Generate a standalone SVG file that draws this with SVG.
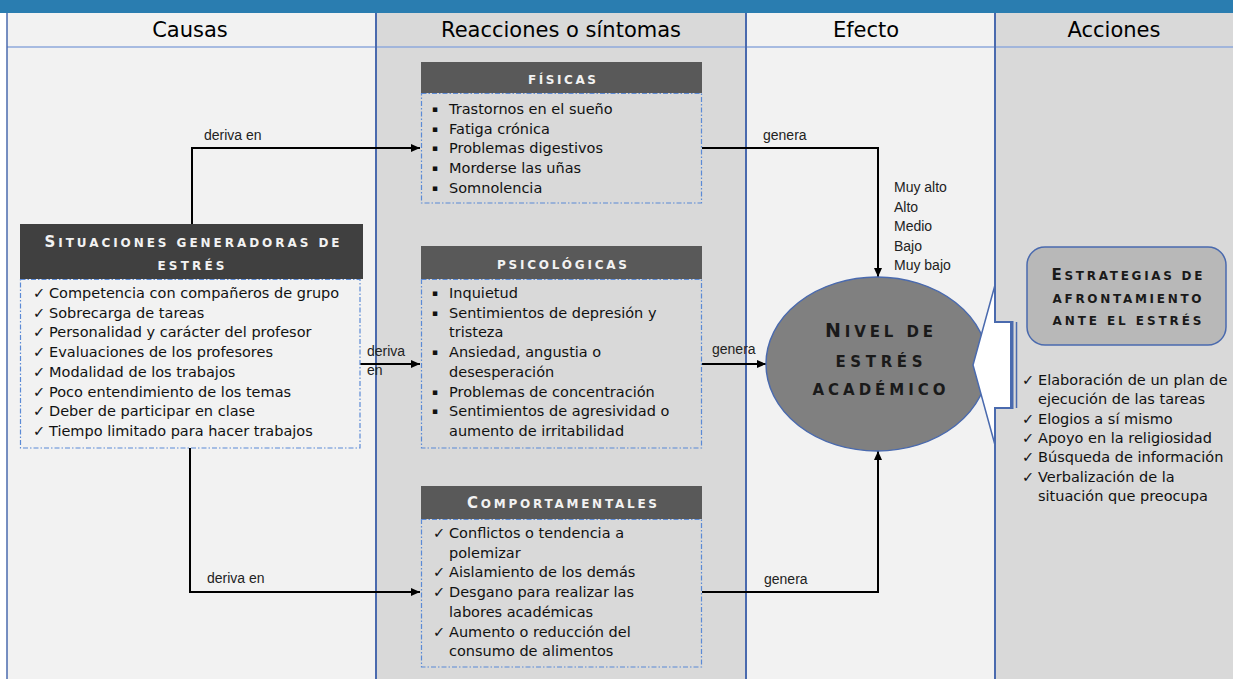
<svg xmlns="http://www.w3.org/2000/svg" width="1233" height="679" viewBox="0 0 1233 679">
<defs>
<marker id="arr" markerUnits="userSpaceOnUse" markerWidth="10" markerHeight="8" refX="9" refY="4" orient="auto">
<path d="M0,0 L9,4 L0,8 z" fill="#000"/>
</marker>
<style>
.col-l{fill:#f2f2f2}
.col-d{fill:#d9d9d9}
.sep{stroke:#4a6aae;stroke-width:2;fill:none}
.hdr{font-family:"DejaVu Sans",sans-serif;font-size:21px;fill:#000;text-anchor:middle}
.txt{font-family:"DejaVu Sans",sans-serif;font-size:14.5px;fill:#111}
.bul{font-family:"DejaVu Sans",sans-serif;font-size:9px;fill:#111}
.lbl{font-family:"Liberation Sans",sans-serif;font-size:14px;fill:#222}
.cap{font-family:"DejaVu Sans",sans-serif;font-weight:bold;font-size:12px;fill:#f2f2f2;text-anchor:middle}
.big{font-size:15px}
.capd{fill:#1a1a1a}
.dark{fill:#595959}
.body{fill:none;stroke:#5b8ad6;stroke-width:1.2;stroke-dasharray:5 2 1.5 2}
.con{fill:none;stroke:#000;stroke-width:2}
</style>
</defs>
<rect x="0" y="0" width="1233" height="679" fill="#ffffff"/>
<g id="columns">
<rect class="col-l" x="7" y="12" width="369" height="667"/>
<rect class="col-d" x="376" y="12" width="370" height="667"/>
<rect class="col-l" x="746" y="12" width="249" height="667"/>
<rect class="col-d" x="995" y="12" width="238" height="667"/>
<rect x="0" y="0" width="1233" height="13" fill="#2a7db0"/>
<line x1="7" y1="47" x2="1233" y2="47" stroke="#8ea9db" stroke-width="1.5"/>
<line class="sep" x1="7" y1="13" x2="7" y2="679" style="stroke-width:1.5"/>
<line class="sep" x1="376" y1="13" x2="376" y2="679"/>
<line class="sep" x1="746" y1="13" x2="746" y2="679"/>
<text class="hdr" x="190" y="37">Causas</text>
<text class="hdr" x="561" y="37">Reacciones o síntomas</text>
<text class="hdr" x="866" y="37">Efecto</text>
<text class="hdr" x="1114" y="37">Acciones</text>
</g>
<g id="connectors">
<path class="con" d="M192,224 V148 H420" marker-end="url(#arr)"/>
<path class="con" d="M190,448 V592 H420" marker-end="url(#arr)"/>
<path class="con" d="M360,364 H420" marker-end="url(#arr)"/>
<path class="con" d="M702,148 H878 V277" marker-end="url(#arr)"/>
<path class="con" d="M702,364 H766" marker-end="url(#arr)"/>
<path class="con" d="M702,592 H878 V451" marker-end="url(#arr)"/>
<text class="lbl" x="204" y="140">deriva en</text>
<text class="lbl" x="207" y="583">deriva en</text>
<text class="lbl" x="367" y="356">deriva</text>
<text class="lbl" x="367" y="375">en</text>
<text class="lbl" x="763" y="140">genera</text>
<text class="lbl" x="712" y="354">genera</text>
<text class="lbl" x="764" y="584">genera</text>
</g>
<g id="situaciones">
<rect x="20" y="224" width="343" height="55" fill="#404040"/>
<text class="cap" x="192" y="247" textLength="295"><tspan class="big">S</tspan>ITUACIONES GENERADORAS DE</text>
<text class="cap" x="191" y="270" textLength="67">ESTRÉS</text>
<rect class="body" x="20.5" y="279.5" width="339.5" height="168.5"/>
<text class="txt" x="33" y="298">✓</text><text class="txt" x="49" y="298">Competencia con compañeros de grupo</text>
<text class="txt" x="33" y="317.7">✓</text><text class="txt" x="49" y="317.7">Sobrecarga de tareas</text>
<text class="txt" x="33" y="337.4">✓</text><text class="txt" x="49" y="337.4">Personalidad y carácter del profesor</text>
<text class="txt" x="33" y="357.1">✓</text><text class="txt" x="49" y="357.1">Evaluaciones de los profesores</text>
<text class="txt" x="33" y="376.8">✓</text><text class="txt" x="49" y="376.8">Modalidad de los trabajos</text>
<text class="txt" x="33" y="396.5">✓</text><text class="txt" x="49" y="396.5">Poco entendimiento de los temas</text>
<text class="txt" x="33" y="416.2">✓</text><text class="txt" x="49" y="416.2">Deber de participar en clase</text>
<text class="txt" x="33" y="435.9">✓</text><text class="txt" x="49" y="435.9">Tiempo limitado para hacer trabajos</text>
</g>
<g id="fisicas">
<rect class="dark" x="421" y="62" width="281" height="31"/>
<text class="cap" x="562" y="84" textLength="68">FÍSICAS</text>
<rect class="body" x="421.5" y="93.5" width="280" height="109.5"/>
<text class="bul" x="432" y="112">▪</text><text class="txt" x="449" y="114">Trastornos en el sueño</text>
<text class="bul" x="432" y="131.7">▪</text><text class="txt" x="449" y="133.7">Fatiga crónica</text>
<text class="bul" x="432" y="151.4">▪</text><text class="txt" x="449" y="153.4">Problemas digestivos</text>
<text class="bul" x="432" y="171.1">▪</text><text class="txt" x="449" y="173.1">Morderse las uñas</text>
<text class="bul" x="432" y="190.8">▪</text><text class="txt" x="449" y="192.8">Somnolencia</text>
</g>
<g id="psicologicas">
<rect class="dark" x="421" y="246" width="281" height="33"/>
<text class="cap" x="562" y="269" textLength="130">PSICOLÓGICAS</text>
<rect class="body" x="421.5" y="279.5" width="280" height="168.5"/>
<text class="bul" x="432" y="296">▪</text><text class="txt" x="449" y="298">Inquietud</text>
<text class="bul" x="432" y="315.7">▪</text><text class="txt" x="449" y="317.7">Sentimientos de depresión y</text>
<text class="txt" x="449" y="337.4">tristeza</text>
<text class="bul" x="432" y="355.1">▪</text><text class="txt" x="449" y="357.1">Ansiedad, angustia o</text>
<text class="txt" x="449" y="376.8">desesperación</text>
<text class="bul" x="432" y="394.5">▪</text><text class="txt" x="449" y="396.5">Problemas de concentración</text>
<text class="bul" x="432" y="414.2">▪</text><text class="txt" x="449" y="416.2">Sentimientos de agresividad o</text>
<text class="txt" x="449" y="435.9">aumento de irritabilidad</text>
</g>
<g id="comportamentales">
<rect class="dark" x="421" y="486" width="281" height="33"/>
<text class="cap" x="562" y="508" textLength="190"><tspan class="big">C</tspan>OMPORTAMENTALES</text>
<rect class="body" x="421.5" y="519.5" width="280" height="147.5"/>
<text class="txt" x="433" y="538">✓</text><text class="txt" x="449" y="538">Conflictos o tendencia a</text>
<text class="txt" x="449" y="557.7">polemizar</text>
<text class="txt" x="433" y="577.4">✓</text><text class="txt" x="449" y="577.4">Aislamiento de los demás</text>
<text class="txt" x="433" y="597.1">✓</text><text class="txt" x="449" y="597.1">Desgano para realizar las</text>
<text class="txt" x="449" y="616.8">labores académicas</text>
<text class="txt" x="433" y="636.5">✓</text><text class="txt" x="449" y="636.5">Aumento o reducción del</text>
<text class="txt" x="449" y="656.2">consumo de alimentos</text>
</g>
<g id="niveles">
<text class="lbl" x="894" y="192">Muy alto</text>
<text class="lbl" x="894" y="211.5">Alto</text>
<text class="lbl" x="894" y="231">Medio</text>
<text class="lbl" x="894" y="250.5">Bajo</text>
<text class="lbl" x="894" y="270">Muy bajo</text>
</g>
<g id="nivel-estres">
<ellipse cx="877" cy="364" rx="111" ry="87" fill="#808080" stroke="#4a6aae" stroke-width="1.5"/>
<text class="cap capd" x="879" y="337" style="font-size:15px" textLength="108"><tspan style="font-size:19px">N</tspan>IVEL DE</text>
<text class="cap capd" x="879" y="367" style="font-size:15px" textLength="87">ESTRÉS</text>
<text class="cap capd" x="879" y="395" style="font-size:15px" textLength="133">ACADÉMICO</text>
</g>
<g id="acciones-callout">
<path d="M995,285 L973,365 L995,445 V408 H1013 V322 H995 Z" fill="#ffffff"/>
<path d="M995,285 L973,365 L995,445" fill="none" stroke="#4a6aae" stroke-width="1.5"/>
<path class="sep" d="M995,13 V322 H1012 M1012,408 H995 V679"/>
<rect x="1010" y="321" width="3.5" height="88" fill="#4a6aae"/>
<line x1="1016.5" y1="322" x2="1016.5" y2="408" stroke="#4a6aae" stroke-width="1.5"/>
</g>
<g id="estrategias">
<rect x="1027" y="247" width="199" height="98" rx="18" fill="#b8b8b8" stroke="#4a6aae" stroke-width="1.5"/>
<text class="cap capd" x="1127" y="280" textLength="151"><tspan class="big">E</tspan>STRATEGIAS DE</text>
<text class="cap capd" x="1127" y="303" textLength="149">AFRONTAMIENTO</text>
<text class="cap capd" x="1127" y="325" textLength="149">ANTE EL ESTRÉS</text>
</g>
<g id="acciones-lista">
<text class="txt" x="1022" y="385">✓</text><text class="txt" x="1038" y="385">Elaboración de un plan de</text>
<text class="txt" x="1038" y="404.3">ejecución de las tareas</text>
<text class="txt" x="1022" y="423.6">✓</text><text class="txt" x="1038" y="423.6">Elogios a sí mismo</text>
<text class="txt" x="1022" y="442.9">✓</text><text class="txt" x="1038" y="442.9">Apoyo en la religiosidad</text>
<text class="txt" x="1022" y="462.2">✓</text><text class="txt" x="1038" y="462.2">Búsqueda de información</text>
<text class="txt" x="1022" y="481.5">✓</text><text class="txt" x="1038" y="481.5">Verbalización de la</text>
<text class="txt" x="1038" y="500.8">situación que preocupa</text>
</g>
</svg>
